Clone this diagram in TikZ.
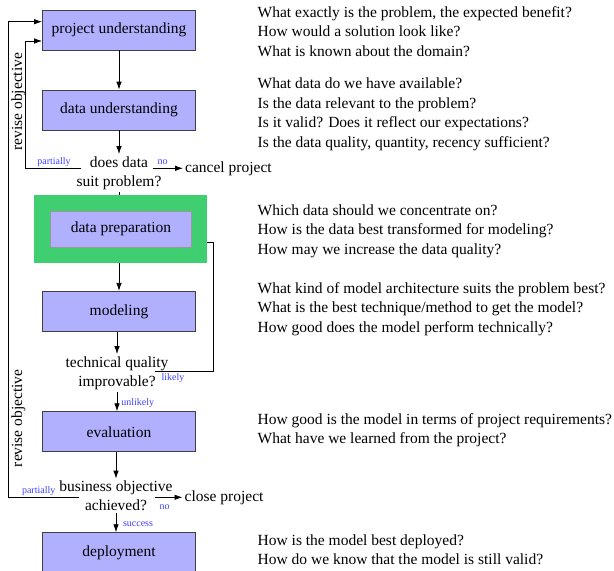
\documentclass[tikz,border=0pt]{standalone}
\usepackage{fontspec}
\setmainfont{Liberation Serif}
\usepackage{xcolor}
\usepackage{tikz}
\usetikzlibrary{calc,arrows.meta,positioning}
\definecolor{phasebg}{HTML}{B0B0FF}
\definecolor{prepbg}{HTML}{3FCF70}
\definecolor{branch}{HTML}{4040FF}
\definecolor{edge}{HTML}{404040}
\newcommand{\bigfs}{\fontsize{15.5}{19.4}\selectfont}
\newcommand{\smallfs}{\fontsize{10}{12}\selectfont}
\tikzset{
  phase/.style={draw=edge, fill=phasebg, line width=0.8pt, minimum width=153pt, minimum height=40pt, inner sep=0pt, font=\bigfs},
  prepframe/.style={fill=prepbg, minimum width=172.7pt, minimum height=67.7pt, inner sep=0pt},
  choice/.style={align=center, inner sep=2pt, font=\bigfs},
  outcome/.style={anchor=west, inner sep=2pt, font=\bigfs},
  qtext/.style={align=left, anchor=north west, inner sep=0pt, font=\bigfs},
  branchlab/.style={text=branch, inner sep=0pt, font=\smallfs},
  sidelab/.style={rotate=90, inner sep=0pt, font=\bigfs},
  flow/.style={draw=black, line width=0.8pt, -{Latex[length=8pt,width=5.5pt]}},
  link/.style={draw=black, line width=0.8pt},
}

\begin{document}
\begin{tikzpicture}[x=1pt,y=-1pt]
\useasboundingbox (0,0) rectangle (614,571);
\node[phase] (proj) at (119,30) {project understanding};
\node[phase] (du) at (119,110) {data understanding};
\node[choice] (dd) at (119,173) {does data\\suit problem?};
\node[outcome] (cancel) at (183,168.3) {cancel project};
\node[prepframe] (grn) at (120.3,229) {};
\node[phase, draw=black!40, line width=0.6pt, minimum width=140.6pt, minimum height=36.3pt] (prep) at (121,229) {data preparation};
\node[phase] (model) at (119,311.3) {modeling};
\node[choice] (tq) at (117,373) {technical quality\\improvable?};
\node[phase] (eval) at (119,431.7) {evaluation};
\node[choice] (bo) at (116,496) {business objective\\achieved?};
\node[outcome] (close) at (182.5,497.3) {close project};
\node[phase] (deploy) at (119,552.7) {deployment};

\draw[flow] (proj) -- (du);
\draw[flow] (du) -- (dd);
\draw[link] (dd.south) -- (dd.south |- grn.north);
\draw[flow] (grn.south -| model.north) -- (model.north);
\draw[flow] (model.south -| tq.north) -- (tq.north);
\draw[flow] (tq.south) -- (tq.south |- eval.north);
\draw[flow] (eval.south -| bo.north) -- (bo.north);
\draw[flow] (bo.south) -- (bo.south |- deploy.north);

\draw[flow] ([xshift=-11pt,yshift=4.7pt]dd.east) -- (cancel.west);
\draw[flow] ([xshift=7pt,yshift=4.7pt]dd.west) -| ([xshift=-16.8pt,yshift=-11pt]proj.west) -- ([yshift=-11pt]proj.west);
\draw[link] ([xshift=-16pt,yshift=1.3pt]tq.east) -| ([xshift=6.3pt,yshift=-13.7pt]grn.east) -- ([yshift=-13.7pt]grn.east);
\draw[flow] ([xshift=-20pt,yshift=-1.3pt]bo.east) -- (close.west);
\draw[flow] ([xshift=22pt,yshift=-1.3pt]bo.west) -| ([xshift=-34.2pt,yshift=8.3pt]proj.west) -- ([yshift=8.3pt]proj.west);

\node[branchlab] (p1) at (54,162.3) {partially};
\node[branchlab] (n1) at (162.5,162.3) {no};
\node[branchlab] (lk) at (173,378) {likely};
\node[branchlab] (ul) at (137.8,402.7) {unlikely};
\node[branchlab] (p2) at (38.7,490.7) {partially};
\node[branchlab] (n2) at (164.5,507.3) {no};
\node[branchlab] (sc) at (138,524.3) {success};
\node[sidelab] (r1) at (18.5,101.7) {revise objective};
\node[sidelab] (r2) at (18.5,418.3) {revise objective};

\node[qtext] (q1) at (257.5,6.2) {What exactly is the problem, the expected benefit?\\How would a solution look like?\\What is known about the domain?};
\node[qtext] (q2) at (257.5,77.9) {What data do we have available?\\Is the data relevant to the problem?\\Is it valid? Does it reflect our expectations?\\Is the data quality, quantity, recency sufficient?};
\node[qtext] (q3) at (257.5,204.6) {Which data should we concentrate on?\\How is the data best transformed for modeling?\\How may we increase the data quality?};
\node[qtext] (q4) at (257.5,282.2) {What kind of model architecture suits the problem best?\\What is the best technique/method to get the model?\\How good does the model perform technically?};
\node[qtext] (q5) at (257.5,412.9) {How good is the model in terms of project requirements?\\What have we learned from the project?};
\node[qtext] (q6) at (257.5,534.6) {How is the model best deployed?\\How do we know that the model is still valid?};
\end{tikzpicture}
\end{document}
